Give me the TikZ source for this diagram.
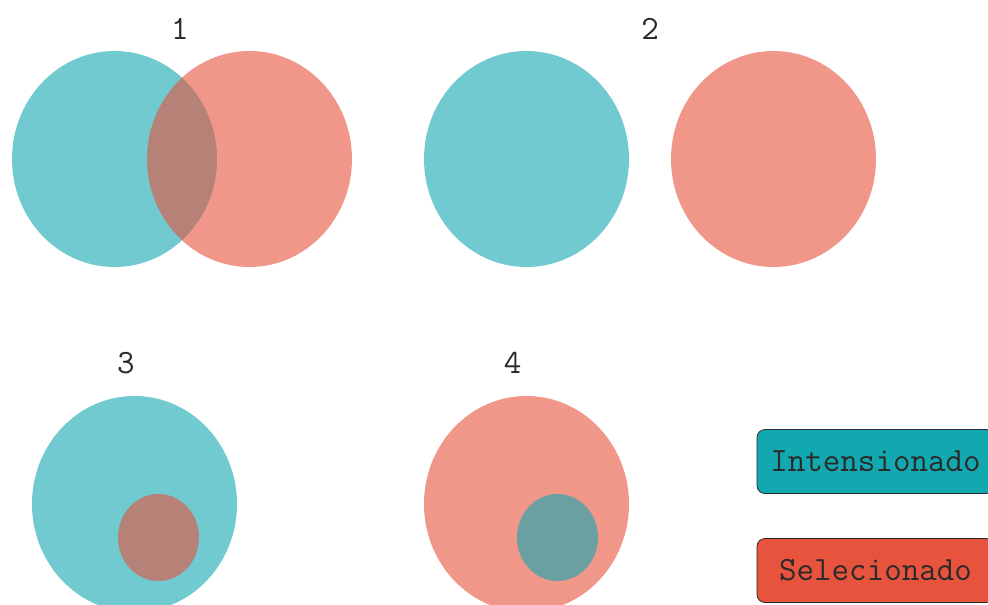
\documentclass[tikz,border=0pt]{standalone}
\usetikzlibrary{shapes.geometric}
\definecolor{Teal}{HTML}{11A7B2}
\definecolor{Coral}{HTML}{E6533C}
\definecolor{TealBox}{HTML}{12A8B0}
\definecolor{CoralBox}{HTML}{E8533E}
\definecolor{Ink}{HTML}{2A2A2A}
\tikzset{
  bigset/.style={ellipse,inner sep=0pt,minimum width=205pt,minimum height=216pt,fill opacity=0.6},
  smallset/.style={ellipse,inner sep=0pt,minimum width=81pt,minimum height=87pt,fill opacity=0.6},
  num/.style={anchor=base,font=\ttfamily\fontsize{34}{40}\selectfont,text=Ink},
  legend/.style={draw=Ink,line width=0.8pt,rounded corners=8pt,minimum width=237pt,minimum height=64pt,font=\ttfamily\fontsize{34}{40}\selectfont,text=Ink}
}

\begin{document}
\begin{tikzpicture}[x=1pt,y=-1pt]
  \clip (0,0) rectangle (988,605);
  \fill[white] (0,0) rectangle (988,605);
  % case 1
  \node[bigset,fill=Teal] (t1) at (114.5,159) {};
  \node[bigset,fill=Coral] (c1) at (249.5,159) {};
  \node[num] (n1) at (180,39) {1};
  % case 2
  \node[bigset,fill=Teal] (t2) at (526.5,159) {};
  \node[bigset,fill=Coral] (c2) at (773.5,159) {};
  \node[num] (n2) at (650,39) {2};
  % case 3
  \node[bigset,fill=Teal] (t3) at (134.5,504) {};
  \node[smallset,fill=Coral] (c3) at (158.5,537.5) {};
  \node[num] (n3) at (126,373) {3};
  % case 4
  \node[bigset,fill=Coral] (c4) at (526.5,504) {};
  \node[smallset,fill=Teal] (t4) at (557.5,537.5) {};
  \node[num] (n4) at (512.5,373) {4};
  % legend
  \node[legend,fill=TealBox] (li) at (875.5,461.5) {Intensionado};
  \node[legend,fill=CoralBox] (ls) at (875.5,570.5) {Selecionado};
\end{tikzpicture}
\end{document}
